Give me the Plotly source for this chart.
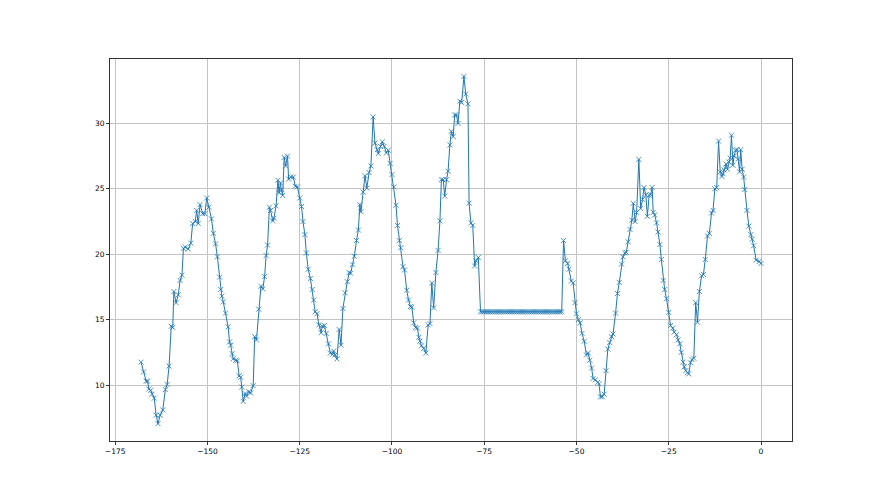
import plotly.graph_objects as go

# Hours relative to now (x) and temperature readings (y)
hours_a = [
    -168.0, -167.3, -166.6, -166.2, -165.9, -165.4, -165.0, -164.4, -163.9, -163.4,
    -162.8, -162.1, -161.4, -160.9, -160.4, -159.8, -159.4, -159.1, -158.5, -157.9,
    -157.4, -156.9, -156.5, -156.0, -155.2, -154.5, -154.0, -153.3, -152.9, -152.5,
    -152.0, -151.3, -150.7, -150.2, -149.6, -148.9, -148.4, -147.8, -147.3, -146.7,
    -146.4, -146.1, -145.7, -145.1, -144.4, -144.0, -143.7, -143.3, -143.0, -142.3,
    -141.9, -141.4, -141.0, -140.7, -140.3, -139.8, -139.4, -138.8, -138.3, -137.6,
    -137.2, -136.7, -136.1, -135.5, -135.0, -134.5, -134.1, -133.7, -133.2, -132.9,
    -132.3, -132.0, -131.4, -130.9, -130.6, -130.2, -130.0, -129.6, -129.2, -128.8,
    -128.3, -128.0, -127.4, -126.7, -126.2, -125.6, -125.0, -124.5, -124.1, -123.6,
    -123.2, -122.7, -122.1, -121.6, -121.2, -120.8, -120.3, -119.8, -119.2, -118.9,
    -118.3, -117.8, -117.2, -116.7, -116.1, -115.8, -115.4, -114.9, -114.3, -113.8,
    -113.3, -112.7, -112.1, -111.6, -111.2, -110.7, -110.2, -109.6, -109.1, -108.7,
    -108.4, -107.8, -107.3, -106.8, -106.2, -105.7, -105.1, -104.6, -104.0, -103.7,
    -103.1, -102.6, -102.1, -101.5, -101.0, -100.5, -100.0, -99.5, -98.9, -98.5,
    -98.0, -97.6, -97.0, -96.6, -96.0, -95.5, -95.0, -94.6, -94.1, -93.6,
    -93.1, -92.7, -92.4, -92.0, -91.4, -90.8, -90.2, -89.7, -89.2, -88.7,
    -88.1, -87.5, -87.0, -86.6, -86.1, -85.7, -85.2, -84.8, -84.3, -83.9,
    -83.4, -83.0, -82.5, -82.1, -81.6, -81.1, -80.5, -80.0, -79.4, -79.1,
    -78.6, -78.1, -77.6, -77.2, -76.6, -76.0,
]
temps_a = [
    11.75, 11.0, 10.3, 10.3, 9.7, 9.6, 9.3, 9.0, 7.7, 7.05,
    7.7, 8.1, 9.65, 10.05, 11.45, 14.5, 14.4, 17.15, 16.3, 16.9,
    18.0, 18.4, 20.45, 20.55, 20.4, 20.85, 22.35, 22.5, 23.35, 22.35,
    23.8, 23.1, 23.1, 24.3, 23.6, 22.7, 21.6, 20.8, 19.8, 18.25,
    17.3, 16.8, 16.35, 15.5, 14.45, 13.3, 13.05, 12.4, 12.0, 11.9,
    11.85, 10.7, 10.6, 9.85, 8.75, 9.35, 9.15, 9.5, 9.4, 9.95,
    13.7, 13.45, 15.8, 17.55, 17.35, 18.3, 19.9, 20.7, 23.6, 23.35,
    22.55, 22.75, 23.7, 25.65, 24.7, 25.45, 24.95, 24.5, 27.4, 26.75,
    27.5, 25.75, 25.9, 25.9, 25.2, 25.15, 24.3, 23.65, 22.5, 21.5,
    20.1, 18.85, 18.15, 17.3, 16.5, 15.6, 15.45, 14.6, 14.0, 14.5,
    14.55, 13.95, 13.15, 12.45, 12.35, 12.6, 12.3, 12.0, 14.25, 13.05,
    15.85, 17.05, 17.9, 18.6, 18.55, 19.2, 19.85, 21.05, 21.85, 23.8,
    23.25, 24.75, 26.0, 25.05, 26.25, 26.75, 30.5, 28.5, 28.0, 27.7,
    28.25, 28.6, 28.25, 27.75, 27.95, 26.95, 26.1, 25.15, 23.75, 22.2,
    21.05, 20.5, 19.05, 18.8, 17.25, 16.5, 16.0, 15.95, 14.75, 14.4,
    14.35, 13.65, 13.35, 13.0, 12.8, 12.45, 14.6, 14.7, 17.8, 15.9,
    18.6, 20.3, 22.55, 25.7, 25.7, 24.45, 25.7, 26.35, 28.35, 29.4,
    29.0, 30.65, 30.65, 30.0, 31.7, 31.6, 33.6, 32.25, 31.5, 23.9,
    22.4, 22.2, 19.1, 19.5, 19.75, 15.6,
]

# Gap period where readings sit at a constant value
hours_gap = [
    -75.5, -75.0, -74.5, -74.0, -73.5, -73.0, -72.5, -72.0, -71.5, -71.0,
    -70.5, -70.0, -69.5, -69.0, -68.5, -68.0, -67.5, -67.0, -66.5, -66.0,
    -65.5, -65.0, -64.5, -64.0, -63.5, -63.0, -62.5, -62.0, -61.5, -61.0,
    -60.5, -60.0, -59.5, -59.0, -58.5, -58.0, -57.5, -57.0, -56.5, -56.0,
    -55.5, -55.0, -54.5, -54.0,
]
temps_gap = [
    15.6, 15.6, 15.6, 15.6, 15.6, 15.6, 15.6, 15.6, 15.6, 15.6,
    15.6, 15.6, 15.6, 15.6, 15.6, 15.6, 15.6, 15.6, 15.6, 15.6,
    15.6, 15.6, 15.6, 15.6, 15.6, 15.6, 15.6, 15.6, 15.6, 15.6,
    15.6, 15.6, 15.6, 15.6, 15.6, 15.6, 15.6, 15.6, 15.6, 15.6,
    15.6, 15.6, 15.6, 15.6,
]

hours_b = [
    -53.5, -53.0, -52.4, -52.0, -51.4, -50.9, -50.4, -50.0, -49.5, -49.0,
    -48.5, -47.9, -47.3, -46.8, -46.4, -45.9, -45.5, -44.9, -44.3, -43.9,
    -43.5, -43.0, -42.5, -42.0, -41.5, -41.0, -40.5, -40.1, -39.4, -38.9,
    -38.4, -37.8, -37.4, -36.9, -36.5, -36.0, -35.5, -35.0, -34.6, -34.1,
    -33.7, -33.1, -32.6, -32.1, -31.7, -31.2, -30.8, -30.3, -29.9, -29.5,
    -29.2, -28.8, -28.3, -27.9, -27.4, -27.0, -26.5, -26.1, -25.6, -25.0,
    -24.5, -23.9, -23.5, -22.9, -22.5, -22.0, -21.6, -21.1, -20.8, -20.4,
    -19.9, -19.6, -19.1, -18.7, -18.2, -17.7, -17.2, -16.7, -16.1, -15.6,
    -15.1, -14.5, -14.0, -13.4, -13.0, -12.5, -12.0, -11.5, -11.05, -10.6,
    -10.3, -10.0, -9.5, -9.1, -8.7, -8.35, -8.0, -7.6, -7.3, -6.9,
    -6.5, -6.2, -5.8, -5.5, -5.1, -4.7, -4.4, -3.8, -3.3, -2.75,
    -2.4, -2.0, -1.3, -0.5, 0.0,
]
temps_b = [
    21.05, 19.5, 19.3, 18.85, 17.95, 17.8, 16.3, 15.45, 15.0, 14.75,
    13.95, 13.35, 12.3, 12.45, 11.9, 11.3, 10.5, 10.4, 10.2, 10.1,
    9.1, 9.1, 9.3, 11.1, 12.75, 13.25, 13.7, 13.9, 15.5, 17.0,
    17.85, 19.25, 19.8, 20.1, 20.15, 20.95, 21.9, 22.6, 23.9, 22.5,
    23.2, 27.25, 23.5, 24.2, 25.1, 24.55, 22.9, 24.5, 24.55, 25.1,
    23.2, 23.0, 22.4, 21.7, 20.75, 19.6, 18.0, 17.3, 16.6, 15.55,
    14.55, 14.35, 14.05, 13.85, 13.45, 13.15, 12.5, 11.75, 11.4, 11.1,
    10.95, 10.85, 11.7, 11.95, 12.05, 16.3, 14.8, 17.15, 18.35, 18.45,
    19.6, 21.4, 21.6, 23.15, 23.35, 25.0, 25.1, 28.65, 26.3, 25.95,
    26.15, 26.45, 26.9, 26.5, 27.05, 27.35, 29.1, 26.8, 27.5, 27.95,
    28.0, 27.3, 26.3, 28.0, 26.5, 25.9, 24.95, 23.35, 22.15, 21.5,
    21.15, 20.65, 19.55, 19.45, 19.3,
]

x_ticks = [-175, -150, -125, -100, -75, -50, -25, 0]
y_ticks = [10, 15, 20, 25, 30]

hours = hours_a + hours_gap + hours_b
temps = temps_a + temps_gap + temps_b

color = "#1f77b4"
fig = go.Figure(
    go.Scatter(
        x=hours, y=temps, mode="lines+markers",
        line=dict(color=color, width=1),
        marker=dict(symbol="x-thin", size=5, color=color,
                    line=dict(color=color, width=0.8)),
        showlegend=False,
    )
)

xmin, xmax = min(hours), max(hours)
ymin, ymax = min(temps), max(temps)
xpad = (xmax - xmin) * 0.05
ypad = (ymax - ymin) * 0.05

axis_common = dict(
    showline=True, mirror=True, linecolor="#333", linewidth=1,
    ticks="outside", ticklen=3, tickwidth=0.8, tickcolor="#333",
    showgrid=True, gridcolor="#c4c4c4", gridwidth=0.8, zeroline=False,
    tickfont=dict(family="DejaVu Sans", size=7.5, color="#000"),
)

fig.update_xaxes(range=[xmin - xpad, xmax + xpad], tickvals=x_ticks,
                 ticktext=[str(v).replace("-", "\u2212") for v in x_ticks],
                 **axis_common)
fig.update_yaxes(range=[ymin - ypad, ymax + ypad], tickvals=y_ticks,
                 ticktext=[str(v) for v in y_ticks], **axis_common)

# The page body adds an 8px offset, so margins are shifted to compensate
fig.update_layout(
    width=880, height=495,
    margin=dict(l=102, r=96, t=51, b=62),
    paper_bgcolor="white", plot_bgcolor="white",
    font=dict(family="DejaVu Sans"),
)

fig.write_html("out.html")
